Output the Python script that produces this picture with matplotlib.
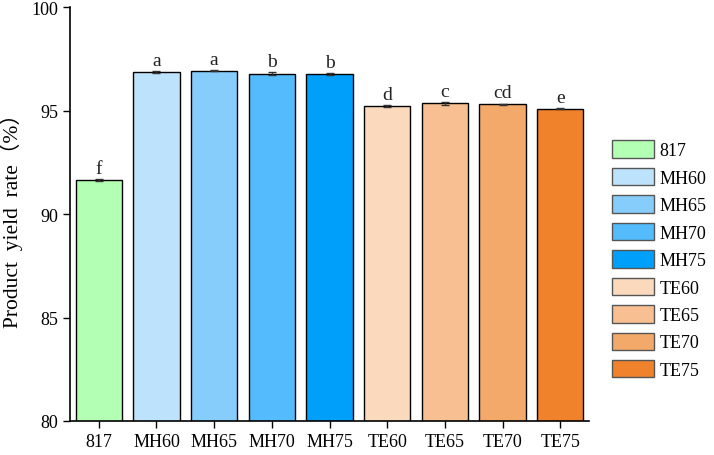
import matplotlib
matplotlib.use("Agg")
import matplotlib.pyplot as plt
from matplotlib.patches import Patch

categories = ["817", "MH60", "MH65", "MH70", "MH75", "TE60", "TE65", "TE70", "TE75"]
values = [91.66, 96.89, 96.94, 96.79, 96.78, 95.23, 95.36, 95.32, 95.11]
errors = [0.05, 0.04, 0.04, 0.08, 0.03, 0.05, 0.06, 0.03, 0.03]
letters = ["f", "a", "a", "b", "b", "d", "c", "cd", "e"]
colors = ["#b3ffb3", "#bde3fc", "#87cdfc", "#54bcfc", "#00a0fa",
          "#fbd9bd", "#f7bf92", "#f3a96a", "#ef822b"]

plt.rcParams['font.family'] = ['Liberation Serif', 'Noto Sans CJK SC', 'DejaVu Sans']

fig = plt.figure(figsize=(7.14, 4.56), dpi=100)
ax = fig.add_axes([0.098, 0.0746, 0.727, 0.907])

x = list(range(len(categories)))
ax.bar(x, values, width=0.8, color=colors, edgecolor="black", linewidth=1.0,
       yerr=errors, error_kw=dict(ecolor="#333333", elinewidth=1.0, capsize=3, capthick=1.0))

for xi, v, e, l in zip(x, values, errors, letters):
    ax.text(xi, v + e + 0.1, l, ha="center", va="bottom", fontsize=14, color="#222222")

ax.set_xlim(-0.5, 8.5)
ax.set_ylim(80, 100)
ax.set_yticks([80, 85, 90, 95, 100])
ax.set_xticks(x)
ax.set_xticklabels(categories)
ax.tick_params(axis="both", labelsize=13, direction="out", length=5, width=1, colors="black")
for s in ["top", "right"]:
    ax.spines[s].set_visible(False)
for s in ["left", "bottom"]:
    ax.spines[s].set_linewidth(1.2)

ax.set_ylabel("Product  yield  rate（%）", fontsize=15.5, labelpad=6)

handles = [Patch(facecolor=c, edgecolor="#555555", linewidth=1.0, label=l)
           for c, l in zip(colors, categories)]
fig.legend(handles=handles, loc="upper left", bbox_to_anchor=(0.857, 0.69),
           frameon=False, fontsize=13, handlelength=2.35, handleheight=1.1,
           labelspacing=0.48, borderpad=0, handletextpad=0.3, borderaxespad=0)

fig.savefig("out.png", dpi=100)
